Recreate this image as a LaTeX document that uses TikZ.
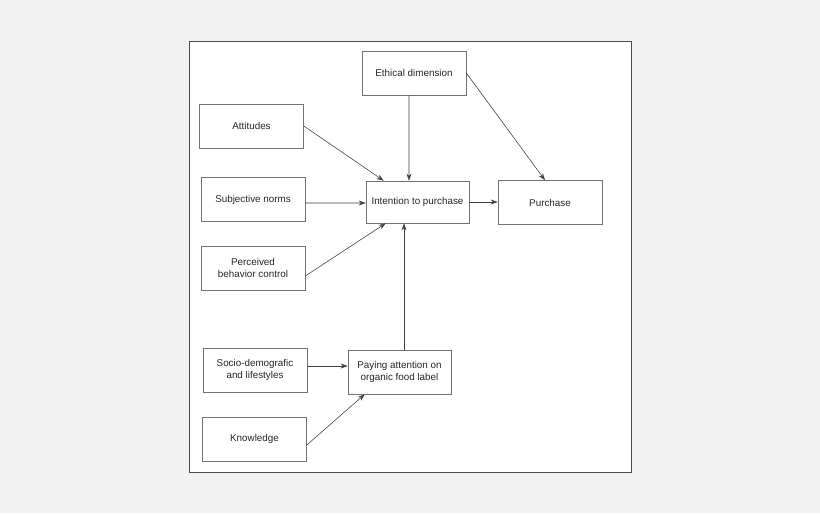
\documentclass[tikz,border=0pt]{standalone}
\usepackage{fontspec}
\setmainfont{Liberation Sans}
\usetikzlibrary{arrows.meta}
\tikzstyle{boxRec} = [rectangle, draw=black!55, fill=white, minimum width=2.6cm, minimum height=1.1cm, align=center, font=\fontsize{7}{8}\selectfont, text=black!85]
\tikzstyle{link} = [draw=black!75, line width=0.4pt, -{Stealth[length=5pt,width=3.5pt]}]
\begin{document}
\begin{tikzpicture}[x=0.025cm, y=-0.025cm]
    \fill[black!5] (0,0) rectangle (820,513);
    \draw[black!70, fill=white] (189,41) rectangle (631,472);

    \node (Eth) [boxRec] at (414,73) {Ethical dimension};
    \node (Att) [boxRec] at (251.5,126) {Attitudes};
    \node (Sub) [boxRec] at (253,199.5) {Subjective norms};
    \node (Int) [boxRec, minimum width=2.575cm, minimum height=1.05cm] at (417.5,202) {Intention to purchase};
    \node (Pur) [boxRec] at (550,202.5) {Purchase};
    \node (Pbc) [boxRec] at (253,268) {Perceived\\behavior control};
    \node (Soc) [boxRec] at (255,370) {Socio-demografic\\and lifestyles};
    \node (Pay) [boxRec, minimum width=2.575cm] at (399.5,372) {Paying attention on\\organic food label};
    \node (Kno) [boxRec] at (254.5,439) {Knowledge};

    \draw[link] (Att.east) -- ([xshift=18/40*1cm]Int.north west);
    \draw[link] ([xshift=-5/40*1cm]Eth.south) -- ([xshift=-8.5/40*1cm]Int.north);
    \draw[link] (Eth.east) -- ([xshift=-5/40*1cm]Pur.north);
    \draw[link] ([yshift=-3.5/40*1cm]Sub.east) -- ([yshift=-1/40*1cm]Int.west);
    \draw[link] (Int.east) -- (Int.east -| Pur.west);
    \draw[link] ([yshift=-8/40*1cm]Pbc.east) -- ([xshift=20/40*1cm]Int.south west);
    \draw[link] ([yshift=4/40*1cm]Soc.east) -- ([yshift=4/40*1cm]Soc.east -| Pay.west);
    \draw[link] ([xshift=4.5/40*1cm]Pay.north) -- ([xshift=4.5/40*1cm]Pay.north |- Int.south);
    \draw[link] ([yshift=-6/40*1cm]Kno.east) -- ([xshift=17/40*1cm]Pay.south west);
\end{tikzpicture}
\end{document}
